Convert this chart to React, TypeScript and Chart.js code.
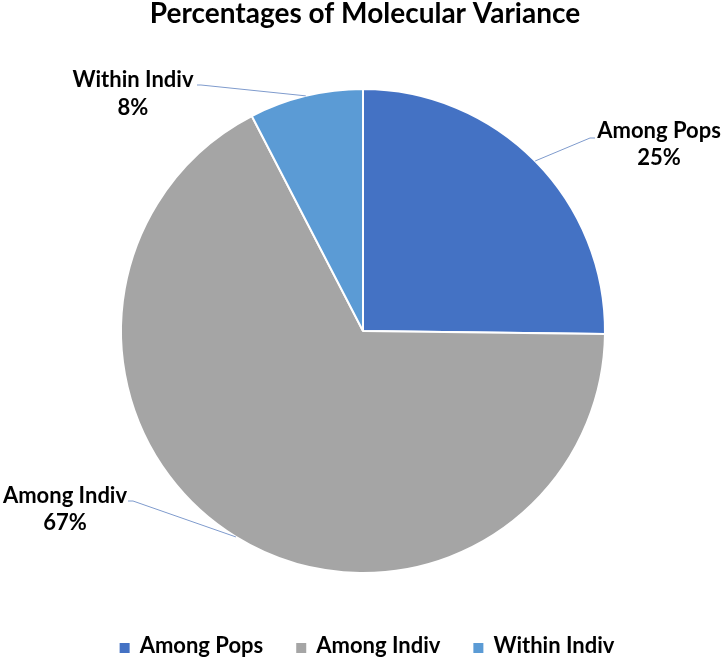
import React, { useEffect, useRef } from "react";
import { Chart, registerables } from "chart.js";

Chart.register(...registerables);

const titleText = "Percentages of Molecular Variance";
const categories = ["Among Pops", "Among Indiv", "Within Indiv"];
const values = [25.2, 67.2, 7.6];
const colors = ["#4472C4", "#A5A5A5", "#5B9BD5"];

const FONT = "Lato, 'Open Sans', sans-serif";
const TEXT_COLOR = "#000000";
const LEADER_COLOR = "#7F9BCD";

// label placement (text centre x, name baseline, pct baseline, leader stub start/end)
const labelLayout = [
  { x: 659, nameY: 138, pctY: 165, stub: [595, 138, 590, 138] },
  { x: 65, nameY: 503, pctY: 530, stub: [128, 501, 133, 501] },
  { x: 133, nameY: 87, pctY: 115, stub: [197, 85, 201, 85] },
];

const decorPlugin = {
  id: "decor",
  afterDraw(chart: any) {
    const ctx = chart.ctx as CanvasRenderingContext2D;
    const meta = chart.getDatasetMeta(0);
    const data = chart.data.datasets[0].data as number[];
    const total = data.reduce((a, b) => a + b, 0);
    ctx.save();

    // Title
    ctx.fillStyle = TEXT_COLOR;
    ctx.font = `bold 28px ${FONT}`;
    ctx.textAlign = "center";
    ctx.textBaseline = "alphabetic";
    ctx.fillText(titleText, 365, 23);

    // Data labels with leader lines
    meta.data.forEach((arc: any, i: number) => {
      const { x, y, startAngle, endAngle, outerRadius } = arc.getProps(
        ["x", "y", "startAngle", "endAngle", "outerRadius"],
        true
      );
      const mid = (startAngle + endAngle) / 2;
      const px = x + Math.cos(mid) * outerRadius;
      const py = y + Math.sin(mid) * outerRadius;
      const L = labelLayout[i];
      ctx.strokeStyle = LEADER_COLOR;
      ctx.lineWidth = 1;
      ctx.beginPath();
      ctx.moveTo(L.stub[0], L.stub[1]);
      ctx.lineTo(L.stub[2], L.stub[3]);
      ctx.lineTo(px, py);
      ctx.stroke();

      ctx.fillStyle = TEXT_COLOR;
      ctx.font = `bold 22px ${FONT}`;
      ctx.textAlign = "center";
      ctx.textBaseline = "alphabetic";
      ctx.fillText(String(chart.data.labels[i]), L.x, L.nameY);
      ctx.fillText(Math.round((data[i] / total) * 100) + "%", L.x, L.pctY);
    });

    // Legend
    ctx.font = `bold 22px ${FONT}`;
    const box = 10;
    const gapBox = 10;
    const gapItem = 33;
    const widths = categories.map((c) => ctx.measureText(c).width);
    const totalW =
      widths.reduce((a, b) => a + b, 0) +
      categories.length * (box + gapBox) +
      (categories.length - 1) * gapItem;
    let lx = 367 - totalW / 2;
    const baseY = 653;
    ctx.textAlign = "left";
    categories.forEach((c, i) => {
      ctx.fillStyle = colors[i];
      ctx.fillRect(lx, baseY - box, box, box);
      lx += box + gapBox;
      ctx.fillStyle = TEXT_COLOR;
      ctx.fillText(c, lx, baseY);
      lx += widths[i] + gapItem;
    });
    ctx.restore();
  },
};

export default function App() {
  const ref = useRef<HTMLCanvasElement | null>(null);
  useEffect(() => {
    if (!ref.current) return;
    const chart = new Chart(ref.current, {
      type: "pie",
      data: {
        labels: categories,
        datasets: [
          {
            data: values,
            backgroundColor: colors,
            borderColor: "#ffffff",
            borderWidth: 2,
          },
        ],
      },
      options: {
        animation: false,
        responsive: false,
        radius: 242,
        layout: { padding: { left: 4, right: 0, top: 60, bottom: 57 } },
        plugins: {
          legend: { display: false },
          title: { display: false },
          tooltip: { enabled: false },
        },
      } as any,
      plugins: [decorPlugin],
    });
    return () => chart.destroy();
  }, []);
  return (
    <div style={{ position: "fixed", left: 0, top: 0, width: 722, height: 659, background: "#fff" }}>
      <canvas ref={ref} width={722} height={659} style={{ width: 722, height: 659 }} />
    </div>
  );
}
